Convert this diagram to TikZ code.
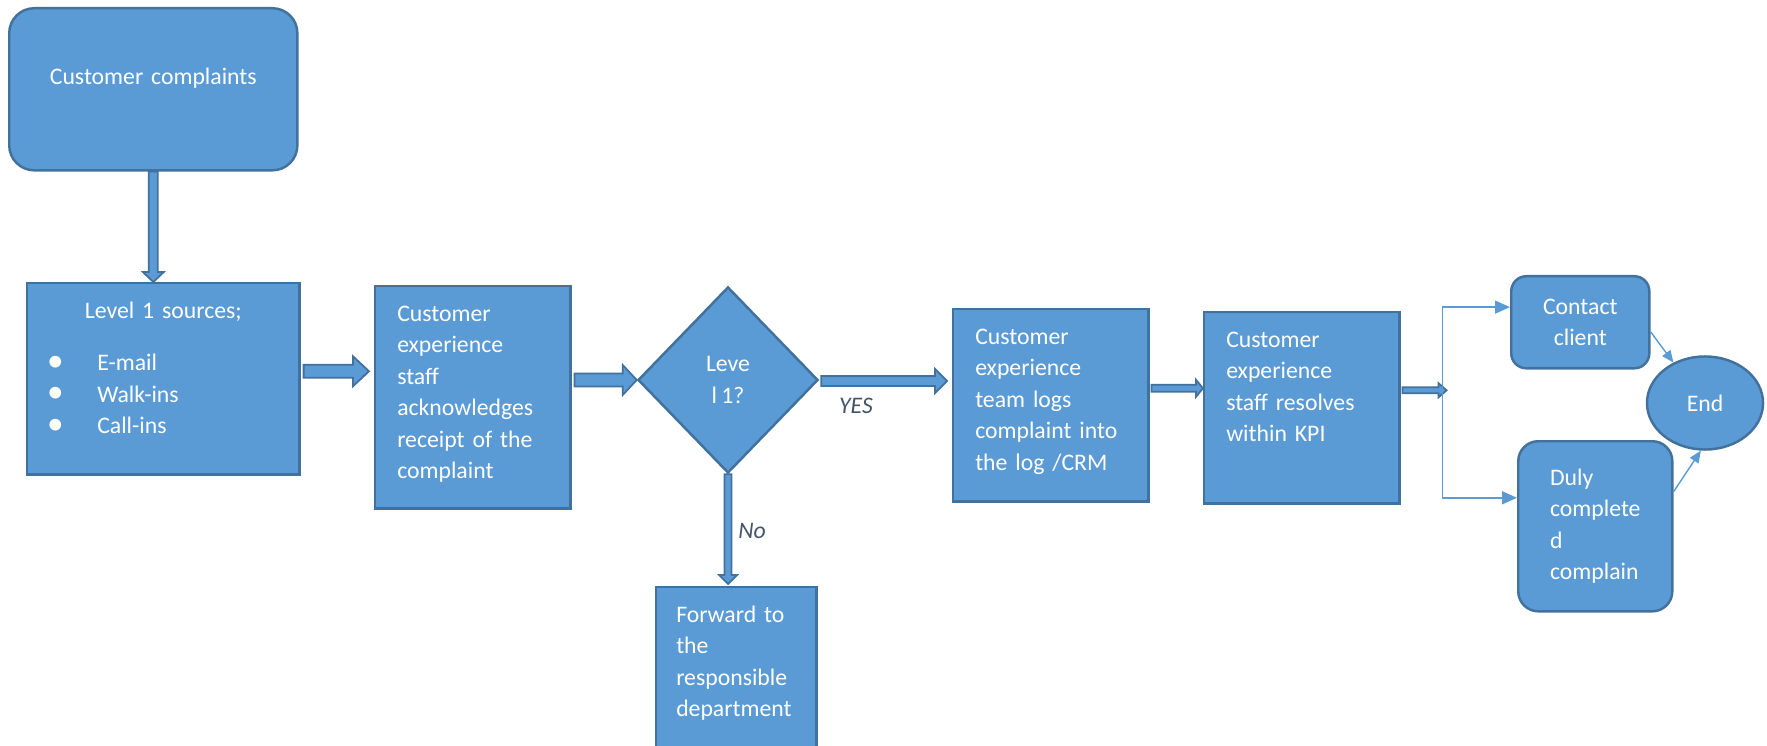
\documentclass[tikz,border=0pt]{standalone}
\usepackage{fontspec}
\setmainfont{Carlito}[WordSpace=0.8]
\usetikzlibrary{shapes.geometric,arrows.meta,calc}

\definecolor{boxblue}{HTML}{5B9BD5}
\definecolor{boxline}{HTML}{41719C}
\definecolor{labelgray}{HTML}{44546A}

% block arrow: start, tip, shaft half width, head half width, head length
\newcommand\blockarrow[5]{%
  \coordinate (ba-head) at ($(#2)!#5!(#1)$);
  \draw[fatarrow] ($(#1)!#3!90:(#2)$) -- ($(ba-head)!#3!90:(#2)$)
    -- ($(ba-head)!#4!90:(#2)$) -- (#2) -- ($(ba-head)!#4!-90:(#2)$)
    -- ($(ba-head)!#3!-90:(#2)$) -- ($(#1)!#3!-90:(#2)$) -- cycle;}
\newcommand\srcbullet{\hspace*{0.2cm}\makebox[0.5cm][l]{\raisebox{-0.2pt}{\scalebox{1.4}{\textbullet}}}}

\begin{document}
\begin{tikzpicture}[x=0.01cm, y=-0.01cm,
        font=\fontsize{6.75}{8.95}\selectfont,
        stepbox/.style={draw=boxline, fill=boxblue, line width=0.7pt, text=white,
            anchor=north west, inner xsep=0.22cm, inner ysep=0pt,
            text height=0.35cm, align=left},
        endbox/.style={draw=boxline, fill=boxblue, line width=0.7pt, text=white,
            anchor=north west, rounded corners=0.15cm, inner sep=0pt, align=center},
        decision/.style={diamond, draw=boxline, fill=boxblue, line width=0.7pt,
            text=white, minimum width=1.8cm, minimum height=1.86cm, inner sep=0pt,
            align=center},
        fatarrow/.style={draw=boxline, fill=boxblue, line width=0.5pt},
        link/.style={draw=boxblue, line width=0.4pt,
            -{Triangle[length=0.15cm,width=0.13cm]}},
        lbl/.style={font=\fontsize{6.75}{8.95}\selectfont\itshape, text=labelgray}]
\useasboundingbox (0,0) rectangle (1767,746);

\node[stepbox, rounded corners=0.25cm, text width=2.88cm, inner xsep=0pt,
    align=center, text height=0.76cm, text depth=0.86cm] (comp) at (8,7) {Customer complaints};
\node[stepbox, text width=2.72cm, inner xsep=0pt, text depth=1.56cm] (lvl) at (26,282)
    {{\centering Level 1 sources;\par}\vspace{0.21cm}\srcbullet E-mail\\\srcbullet Walk-ins\\\srcbullet Call-ins};
\node[stepbox, text width=1.51cm, text depth=1.87cm] (ack) at (374,285)
    {Customer\\experience\\staff\\acknowledges\\receipt of the\\complaint};
\node[decision] (dia) at (728,380) {Leve\\l 1?};
\node[stepbox, text width=1.2cm, inner xsep=0.2cm, text depth=1.5cm] (fwd) at (655,586)
    {Forward to\\the\\responsible\\department};
\node[stepbox, text width=1.51cm, text depth=1.57cm] (log) at (952,308)
    {Customer\\experience\\team logs\\complaint into\\the log /CRM};
\node[stepbox, text width=1.51cm, text depth=1.56cm] (res) at (1203,311)
    {Customer\\experience\\staff resolves\\within KPI};
\node[endbox, minimum width=1.38cm, minimum height=0.92cm] (con) at (1510,275) {Contact\\client};
\node[endbox, rounded corners=0.2cm, align=left, minimum width=1.54cm,
    minimum height=1.7cm] (duly) at (1517,440) {Duly\\complete\\d\\complain};
\node[ellipse, draw=boxline, fill=boxblue, line width=0.7pt, text=white,
    minimum width=1.16cm, minimum height=0.93cm, inner sep=0pt] (finish) at (1705,403) {End};

% fat arrows
\coordinate (lvl-in) at (comp.south |- lvl.north);
\blockarrow{comp.south}{lvl-in}{0.045cm}{0.105cm}{0.1cm}
\coordinate (lvl-out) at ($(lvl.east)+(3,-7.5)$);
\coordinate (ack-in) at ($(ack.west |- lvl-out)+(-5,0)$);
\blockarrow{lvl-out}{ack-in}{0.065cm}{0.15cm}{0.16cm}
\coordinate (ack-out) at ($(ack.east |- dia.west)+(3,0)$);
\blockarrow{ack-out}{dia.west}{0.065cm}{0.15cm}{0.14cm}
\coordinate (dia-out) at ($(dia.east)+(2,1)$);
\coordinate (log-in) at ($(log.west |- dia-out)+(-5,0)$);
\blockarrow{dia-out}{log-in}{0.05cm}{0.12cm}{0.12cm}
\coordinate (fwd-in) at ($(dia.south |- fwd.north)+(0,-2)$);
\blockarrow{dia.south}{fwd-in}{0.035cm}{0.09cm}{0.09cm}
\coordinate (log-out) at ($(log.east)+(2,-17)$);
\coordinate (res-in) at (res.west |- log-out);
\blockarrow{log-out}{res-in}{0.035cm}{0.085cm}{0.07cm}
\coordinate (res-out) at ($(res.east)+(2,-17.5)$);
\coordinate (br-tip) at ($(res-out)+(44,0)$);
\blockarrow{res-out}{br-tip}{0.03cm}{0.07cm}{0.08cm}

% branch to the last steps
\coordinate (br) at ($(res-out)+(40,0)$);
\draw[link] (br) |- ($(con.north west)!0.34!(con.south west)$);
\draw[link] (br) |- ($(duly.north west)!0.335!(duly.south west)$);
\draw[link, -{Triangle[length=0.12cm,width=0.1cm]}] ($(con.north east)!0.6!(con.south east)$) -- (finish.128);
\draw[link, -{Triangle[length=0.12cm,width=0.1cm]}] ($(duly.north east)!0.3!(duly.south east)$) -- (finish.265);

\node[lbl] (yes) at (856,406) {YES};
\node[lbl] (no) at (752,531) {No};
\end{tikzpicture}
\end{document}
